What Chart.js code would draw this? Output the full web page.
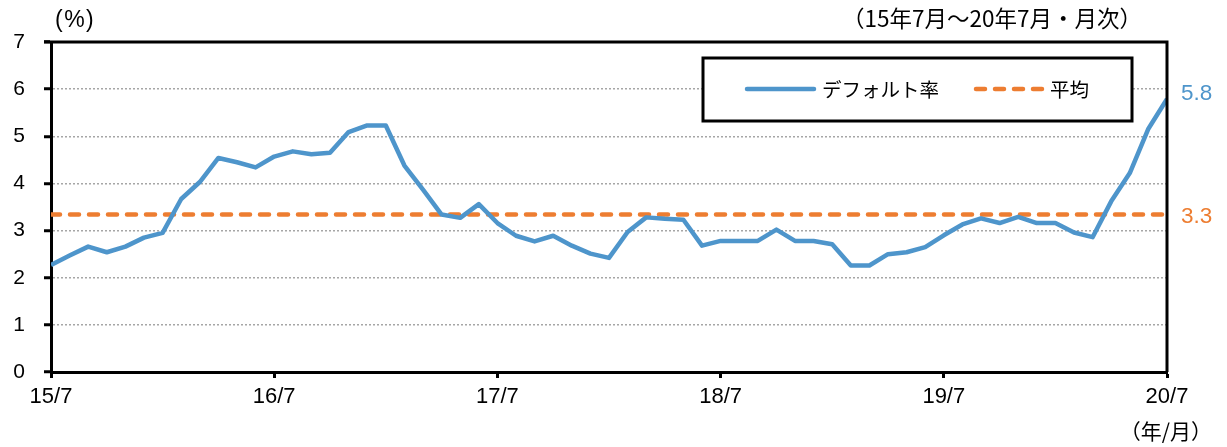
<!DOCTYPE html>
<html>
<head>
<meta charset="utf-8">
<script src="https://cdn.jsdelivr.net/npm/chart.js@4/dist/chart.umd.min.js"></script>
<style>
  html, body { margin: 0; padding: 0; background: #fff; }
  #wrap { width: 1227px; height: 447px; position: relative; }
</style>
</head>
<body>
<div id="wrap"><canvas id="c" width="1227" height="447"></canvas></div>
<script>
// 15/7 - 20/7, monthly
var xTickLabels = ["15/7", "16/7", "17/7", "18/7", "19/7", "20/7"];
var defaultRate = [
    2.27, 2.47, 2.66, 2.54, 2.66, 2.85, 2.95, 3.67, 4.03, 4.54, 4.45, 4.34,
    4.57, 4.68, 4.62, 4.65, 5.09, 5.23, 5.23, 4.38, 3.87, 3.34, 3.27, 3.56,
    3.16, 2.89, 2.77, 2.89, 2.68, 2.51, 2.42, 2.97, 3.28, 3.25, 3.23, 2.68,
    2.78, 2.78, 2.78, 3.02, 2.78, 2.78, 2.71, 2.26, 2.26, 2.50, 2.54, 2.65,
    2.90, 3.13, 3.26, 3.16, 3.29, 3.16, 3.16, 2.96, 2.86, 3.62, 4.22, 5.16,
    5.79
];
var averageRate = 3.34;
var legendNames = ["デフォルト率", "平均"];

var BLUE = "#4E95CB";
var ORANGE = "#ED7D31";
var FONT = "'Liberation Sans', Arial, sans-serif";
var JFONT = "'Noto Sans CJK JP', sans-serif";

var ratePoints = defaultRate.map(function (v, i) { return { x: i, y: v }; });
var avgPoints = [{ x: 0, y: averageRate }, { x: defaultRate.length - 1, y: averageRate }];

var decorations = {
    id: "decorations",
    afterDraw: function (chart) {
        var ctx = chart.ctx;
        var a = chart.chartArea;
        var ys = chart.scales.y;
        ctx.save();
        // top and right frame
        ctx.strokeStyle = "#000";
        ctx.lineWidth = 3;
        ctx.beginPath();
        ctx.moveTo(a.left - 7, a.top);
        ctx.lineTo(a.right, a.top);
        ctx.lineTo(a.right, a.bottom);
        ctx.stroke();

        // legend box
        ctx.fillStyle = "#fff";
        ctx.fillRect(703, 58, 429, 63);
        ctx.lineWidth = 3;
        ctx.strokeRect(703, 58, 429, 63);
        ctx.lineCap = "round";
        ctx.lineWidth = 4.5;
        ctx.strokeStyle = BLUE;
        ctx.beginPath();
        ctx.moveTo(747, 89);
        ctx.lineTo(814, 89);
        ctx.stroke();
        ctx.strokeStyle = ORANGE;
        ctx.setLineDash([9, 10]);
        ctx.beginPath();
        ctx.moveTo(976, 89);
        ctx.lineTo(1043, 89);
        ctx.stroke();
        ctx.setLineDash([]);
        ctx.fillStyle = "#000";
        ctx.font = "19.5px " + JFONT;
        ctx.textBaseline = "middle";
        ctx.textAlign = "left";
        ctx.fillText(legendNames[0], 822, 90);
        ctx.fillText(legendNames[1], 1050, 90);

        // end labels
        var last = defaultRate.length - 1;
        ctx.font = "22.5px " + FONT;
        ctx.fillStyle = BLUE;
        ctx.fillText(defaultRate[last].toFixed(1), 1181, ys.getPixelForValue(defaultRate[last]) - 5);
        ctx.fillStyle = ORANGE;
        ctx.fillText(averageRate.toFixed(1), 1181, ys.getPixelForValue(averageRate) + 2);

        // unit and period texts
        ctx.fillStyle = "#000";
        ctx.font = "23px " + FONT;
        ctx.letterSpacing = "1.5px";
        ctx.fillText("(%)", 55, 21);
        ctx.letterSpacing = "0px";
        ctx.font = "22.5px " + JFONT;
        ctx.fillText("（15年7月～20年7月・月次）", 842, 18);
        ctx.textAlign = "right";
        ctx.font = "21px " + JFONT;
        ctx.fillText("（年/月）", 1212, 431);
        ctx.restore();
    }
};

new Chart(document.getElementById("c"), {
    type: "line",
    data: {
        datasets: [{
            label: legendNames[0],
            data: ratePoints,
            borderColor: BLUE,
            borderWidth: 4.5,
            pointRadius: 0,
            tension: 0,
            borderJoinStyle: "round",
            order: 1
        }, {
            label: legendNames[1],
            data: avgPoints,
            borderColor: ORANGE,
            borderWidth: 4.5,
            borderDash: [9, 10],
            borderCapStyle: "round",
            pointRadius: 0,
            order: 2
        }]
    },
    options: {
        responsive: false,
        animation: false,
        layout: { padding: { top: 42, right: 60, left: 0, bottom: 0 } },
        plugins: { legend: { display: false }, tooltip: { enabled: false } },
        scales: {
            x: {
                type: "linear",
                min: 0,
                max: 60,
                afterFit: function (s) { s.height = 75; },
                ticks: {
                    stepSize: 12,
                    autoSkip: false,
                    maxRotation: 0,
                    padding: 6,
                    color: "#000",
                    font: { family: FONT, size: 22 },
                    callback: function (v) { return xTickLabels[v / 12]; }
                },
                grid: {
                    drawOnChartArea: false,
                    drawTicks: true,
                    tickLength: 6,
                    tickColor: "#000",
                    tickWidth: 3
                },
                border: { display: true, color: "#000", width: 3 }
            },
            y: {
                min: 0,
                max: 7,
                afterFit: function (s) { s.width = 51; },
                ticks: {
                    stepSize: 1,
                    padding: 19,
                    color: "#000",
                    font: { family: FONT, size: 21 }
                },
                grid: {
                    color: function (c) {
                        var v = c.tick ? c.tick.value : null;
                        return (v === 0 || v === 7) ? "rgba(0,0,0,0)" : "#A6A6A6";
                    },
                    lineWidth: 1.5,
                    tickLength: 7,
                    tickColor: "#000",
                    tickWidth: 3
                },
                border: { display: true, color: "#000", width: 3, dash: [2, 2] }
            }
        }
    },
    plugins: [decorations]
});
</script>
</body>
</html>
